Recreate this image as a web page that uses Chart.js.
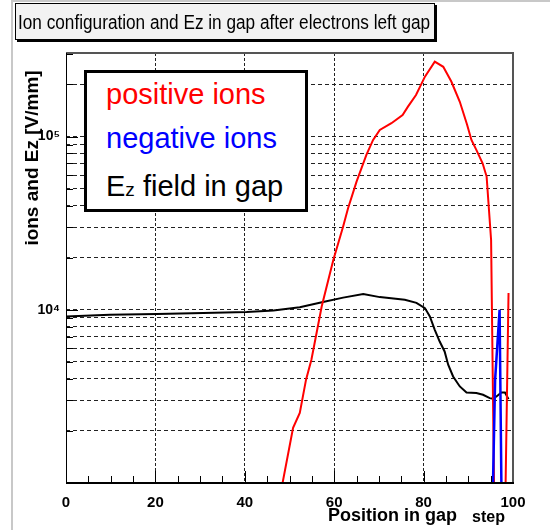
<!DOCTYPE html>
<html>
<head>
<meta charset="utf-8">
<script src="https://cdn.jsdelivr.net/npm/chart.js@4/dist/chart.umd.min.js"></script>
<style>
  body { margin: 0; background: #fff; }
  #wrap { position: relative; width: 550px; height: 530px; overflow: hidden; font-family: "Liberation Sans", Arial, sans-serif; }
  #frame { position: absolute; left: 11px; top: 0; width: 700px; height: 700px; border-left: 2px solid #c8c8c8; border-top: 2px solid #c8c8c8; }
  canvas { position: absolute; left: 0; top: 0; }
  #title { position: absolute; left: 15px; top: 3px; width: 420px; height: 37px; box-sizing: border-box; background: #f2f2f2; border: 1px solid #000; box-shadow: 2px 2px 0 #000; }
  #titleText { position: absolute; left: 18px; top: 12px; font-size: 20px; line-height: 20px; white-space: nowrap; transform: scaleX(0.86); transform-origin: 0 50%; }
  #legend { position: absolute; left: 84px; top: 70px; width: 224px; height: 142px; box-sizing: border-box; border: 3px solid #000; background: #fff; }
  .entry { position: absolute; left: 106px; font-size: 29px; line-height: 29px; white-space: nowrap; }
</style>
</head>
<body>
<div id="wrap">
  <div id="frame"></div>
  <canvas id="ions" width="550" height="530"></canvas>
  <div id="title"></div>
  <div id="titleText">Ion configuration and Ez in gap after electrons left gap</div>
  <div id="legend"></div>
  <div class="entry" style="top:80px;color:#ff0000">positive ions</div>
  <div class="entry" style="top:124px;color:#0000ff">negative ions</div>
  <div class="entry" style="top:172px;color:#000">E<span style="font-size:19px">z</span> field in gap</div>
</div>
<script>
// positive ions along the gap
var posStep = [48.0, 50.8, 52.3, 53.7, 54.9, 57.2, 59.8, 62.0, 63.1, 65.0, 67.2, 68.7, 70.2, 72.8, 75.3, 76.5, 78.3, 80.3, 82.5, 84.4, 86.2, 88.1, 89.7, 90.7, 91.8, 93.2, 94.1, 95.1, 96, 97, 98, 99];
var posIons = [870, 2080, 2540, 3950, 5150, 10450, 19400, 30300, 38600, 55000, 78400, 95700, 109300, 119500, 133400, 149000, 174000, 222000, 271000, 253000, 208000, 159000, 118000, 95700, 83800, 70200, 58800, 25300, 300, 200, 260, 12500];

// negative ions, only near the end of the gap
var negStep = [95, 96, 97, 98];
var negIons = [220, 3950, 10000, 32];

// Ez field
var ezStep = [0, 9.8, 20.3, 30.7, 40.4, 46.4, 52.3, 57.5, 62.0, 66.5, 70.2, 75.8, 78.4, 80.3, 81.4, 82.5, 83.6, 84.7, 85.5, 86.6, 88.1, 89.6, 91.8, 93.3, 94.8, 95.5, 96.3, 97.4, 98.2, 99.0];
var ezField = [9150, 9360, 9450, 9570, 9700, 9910, 10340, 11090, 11760, 12320, 11840, 11420, 10970, 10230, 9150, 7670, 6560, 5750, 4820, 4120, 3610, 3330, 3310, 3230, 3090, 3070, 3160, 3330, 3330, 3050];

var xTickValues = [0, 20, 40, 60, 80, 100];
var xTickLabels = ['0', '20', '40', '60', '80', '100'];
var yLabelValues = [1e4, 1e5];
var yLabelText = ['10\u2074', '10\u2075'];

var Y_MIN = 1000, Y_MAX = 304000;

// 2..9 x each decade inside the range
var yGrid = [];
for (var dec = 1e3; dec <= 1e5; dec *= 10) {
  for (var m = 1; m <= 9; m++) {
    var v = m * dec;
    if (v > Y_MIN && v < Y_MAX) yGrid.push(v);
  }
}

function toPoints(xs, ys) {
  return xs.map(function (x, i) { return { x: x, y: ys[i] }; });
}

var FONT = '"Liberation Sans", Arial, sans-serif';

// frame, inward ticks and axis titles, ROOT style
var rootFrame = {
  id: 'rootFrame',
  afterDraw: function (chart) {
    var c = chart.ctx, a = chart.chartArea;
    var xs = chart.scales.x, ys = chart.scales.y;
    c.save();
    c.strokeStyle = '#000';
    c.lineWidth = 1;
    // x ticks every 5
    for (var t = 5; t < 100; t += 5) {
      var px = Math.round(xs.getPixelForValue(t)) + 0.5;
      var len = (t % 20 === 0) ? 12 : 7;
      c.beginPath(); c.moveTo(px, a.bottom); c.lineTo(px, a.bottom - len); c.stroke();
    }
    yGrid.forEach(function (v) {
      var py = Math.round(ys.getPixelForValue(v)) + 0.5;
      var len = (yLabelValues.indexOf(v) >= 0) ? 12 : 7;
      c.beginPath(); c.moveTo(a.left, py); c.lineTo(a.left + len, py); c.stroke();
    });
    // frame
    c.strokeStyle = '#555';
    c.lineWidth = 2;
    c.beginPath(); c.moveTo(a.left, a.top); c.lineTo(a.right, a.top); c.lineTo(a.right, a.bottom); c.stroke();
    c.strokeStyle = '#000';
    c.beginPath(); c.moveTo(a.left, a.bottom); c.lineTo(a.right + 1, a.bottom); c.stroke();
    c.lineWidth = 1;
    c.beginPath(); c.moveTo(a.left + 0.5, a.top); c.lineTo(a.left + 0.5, a.bottom); c.stroke();

    // axis titles
    c.fillStyle = '#000';
    c.font = 'bold 18px ' + FONT;
    c.textAlign = 'left';
    c.textBaseline = 'alphabetic';
    c.fillText('Position in gap', 328, 521);
    c.font = 'bold 16px ' + FONT;
    c.fillText('step', 472, 522);
    c.translate(38, 158);
    c.rotate(-Math.PI / 2);
    c.font = 'bold 19px ' + FONT;
    c.textAlign = 'center';
    c.fillText('ions and Ez [V/mm]', 0, 0);
    c.restore();
  }
};

var ctx = document.getElementById('ions').getContext('2d');
var chart = new Chart(ctx, {
  type: 'line',
  data: {
    datasets: [
      { label: 'negative ions', data: toPoints(negStep, negIons), borderColor: '#0000ff', borderWidth: 2.5 },
      { label: 'positive ions', data: toPoints(posStep, posIons), borderColor: '#ff0000', borderWidth: 2 },
      { label: 'Ez field in gap', data: toPoints(ezStep, ezField), borderColor: '#000000', borderWidth: 2 }
    ]
  },
  options: {
    responsive: false,
    animation: false,
    devicePixelRatio: 1,
    layout: { padding: { top: 53, right: 37, left: 0, bottom: 0 } },
    elements: { point: { radius: 0 }, line: { tension: 0, fill: false } },
    plugins: { legend: { display: false }, tooltip: { enabled: false } },
    scales: {
      x: {
        type: 'linear', min: 0, max: 100,
        afterFit: function (s) { s.height = 47; },
        afterBuildTicks: function (s) { s.ticks = xTickValues.map(function (v) { return { value: v }; }); },
        ticks: {
          autoSkip: false, maxRotation: 0, padding: 11, color: '#000',
          font: { family: FONT, size: 15, weight: 'bold' },
          callback: function (v, i) { return xTickLabels[i]; }
        },
        grid: {
          drawTicks: false, lineWidth: 1,
          color: function (c) {
            var v = c.tick ? c.tick.value : null;
            return (v === 0 || v === 100) ? 'rgba(0,0,0,0)' : '#222';
          }
        },
        border: { display: false, dash: [3, 2] }
      },
      y: {
        type: 'logarithmic', min: Y_MIN, max: Y_MAX,
        afterFit: function (s) { s.width = 66; },
        afterBuildTicks: function (s) { s.ticks = yGrid.map(function (v) { return { value: v }; }); },
        ticks: {
          autoSkip: false, padding: 6, color: '#000',
          font: { family: FONT, size: 14, weight: 'bold' },
          callback: function (v) {
            var k = yLabelValues.indexOf(v);
            return k < 0 ? '' : yLabelText[k];
          }
        },
        grid: { drawTicks: false, lineWidth: 1, color: '#222' },
        border: { display: false, dash: [4, 3] }
      }
    }
  },
  plugins: [rootFrame]
});
</script>
</body>
</html>
